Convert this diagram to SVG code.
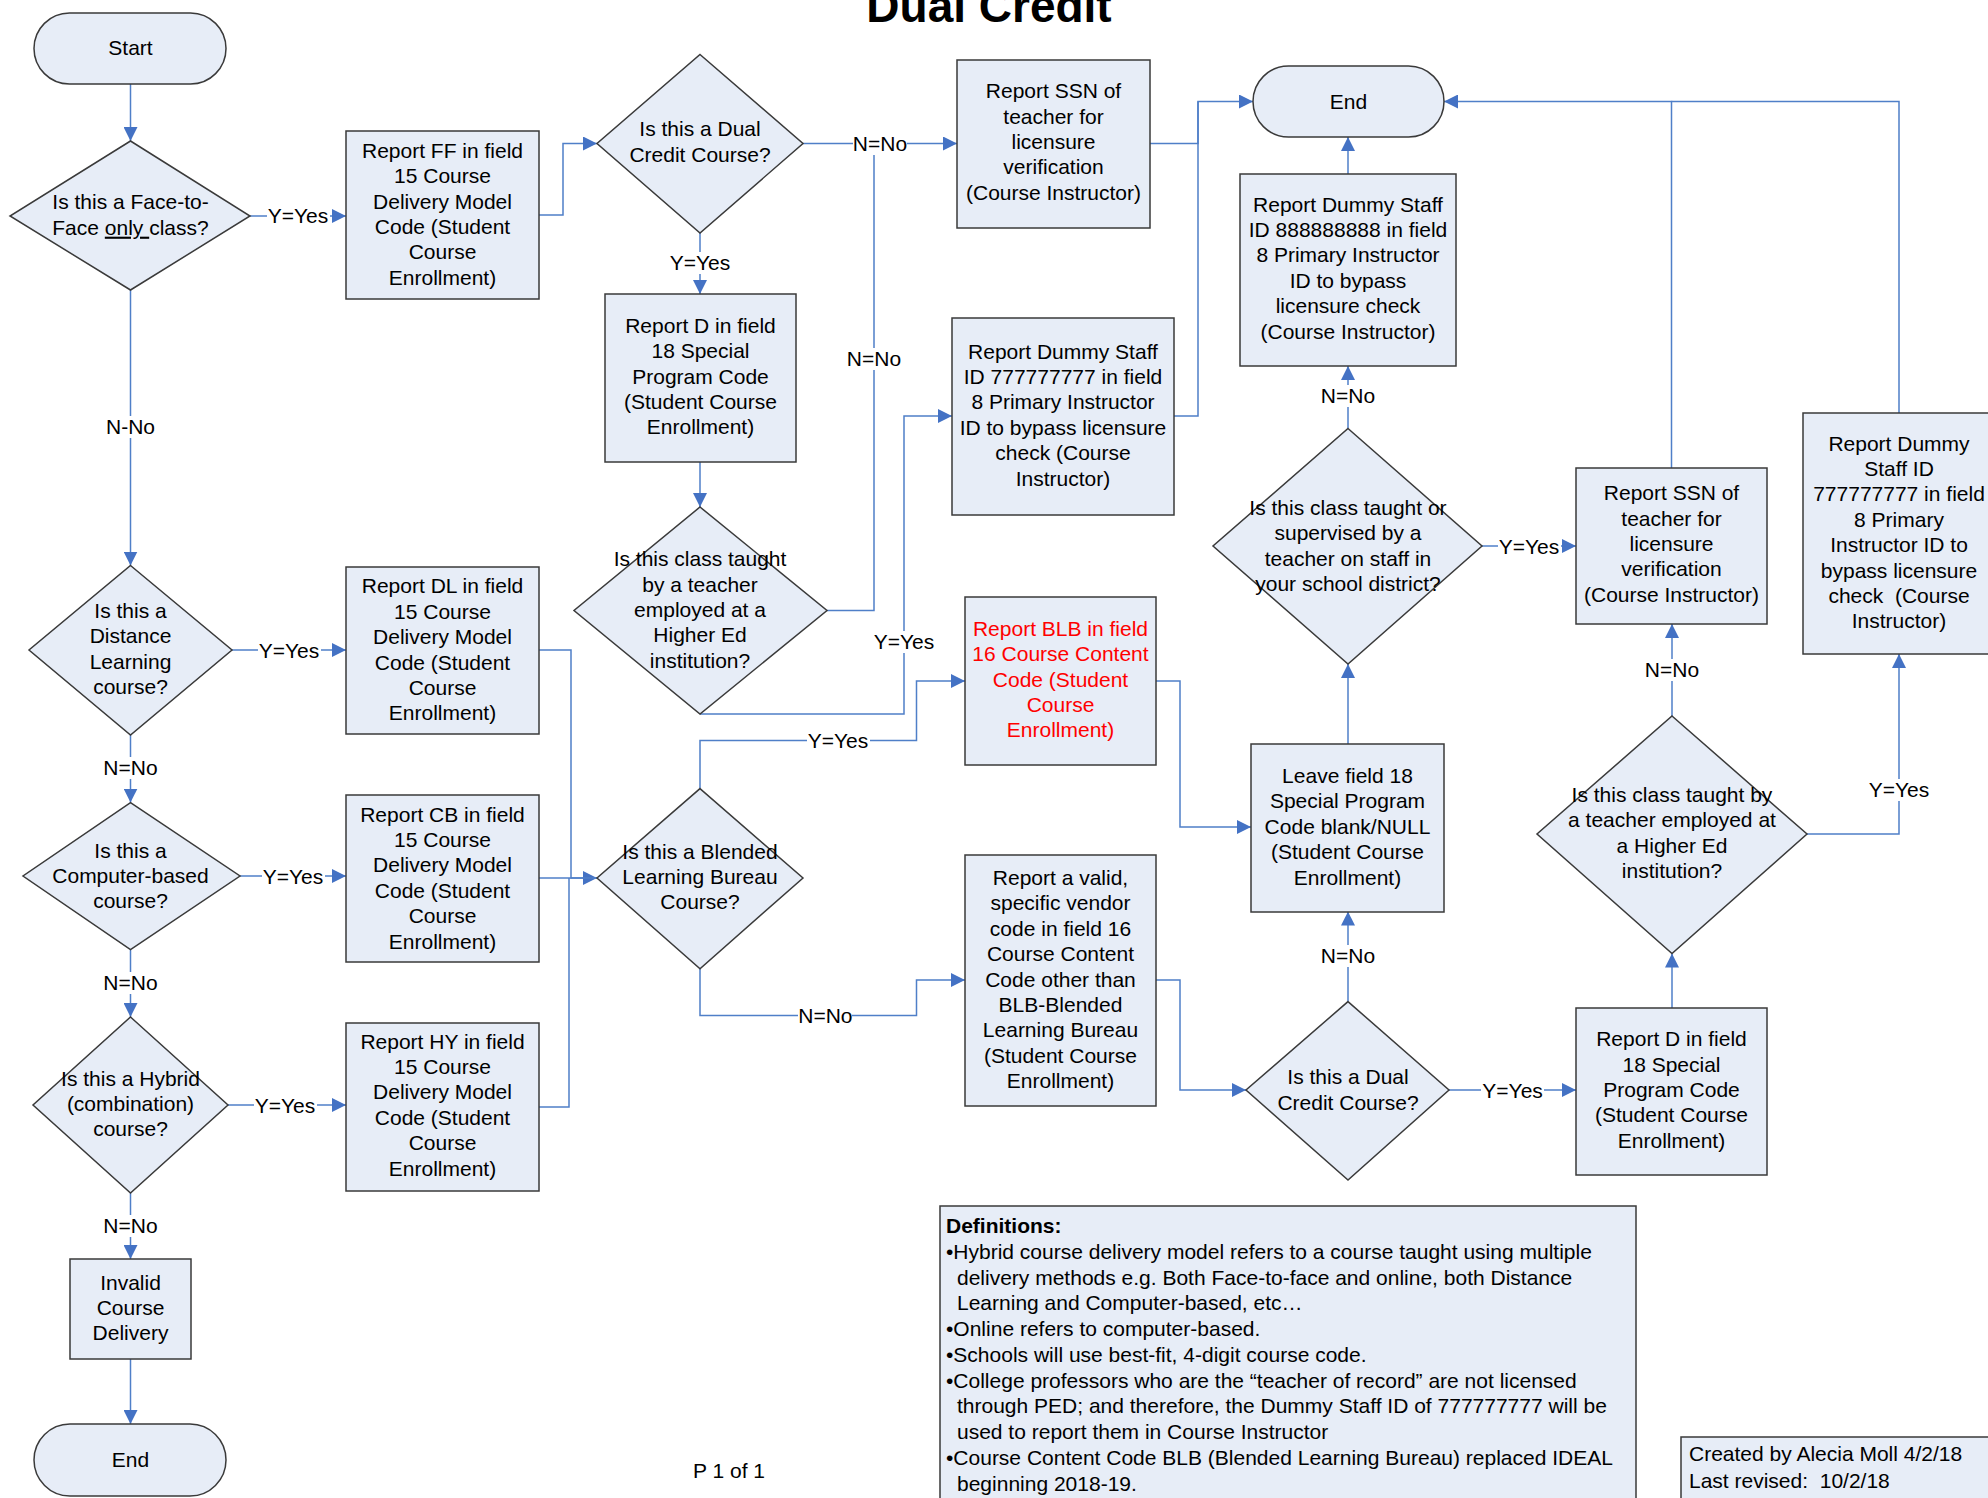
<svg xmlns="http://www.w3.org/2000/svg" width="1988" height="1498" viewBox="0 0 1988 1498">
<style>
.n{fill:#E7EDF7;stroke:#3a3a3a;stroke-width:1.5}
.t{font-family:"Liberation Sans",Arial,sans-serif;font-size:21px;fill:#000;text-anchor:middle}
.red{fill:#FF0000}
.c{fill:none;stroke:#4F7FC8;stroke-width:1.5}
.lb{fill:#fff;stroke:none}
.d{font-family:"Liberation Sans",Arial,sans-serif;font-size:21px;fill:#000}
</style>
<defs>
<marker id="ar" markerUnits="userSpaceOnUse" markerWidth="14" markerHeight="14" refX="14" refY="7" orient="auto">
<path d="M0,0 L14,7 L0,14 z" fill="#4472C4"/>
</marker>
</defs>
<rect width="1988" height="1498" fill="#fff"/>
<text x="989" y="22" font-family="Liberation Sans,Arial,sans-serif" font-size="46" font-weight="bold" text-anchor="middle">Dual Credit</text>

<g id="connectors">
<path class="c" d="M130.5,84 V141" marker-end="url(#ar)"/>
<path class="c" d="M250,216 H346" marker-end="url(#ar)"/>
<path class="c" d="M539,215 H563 V143.5 H597" marker-end="url(#ar)"/>
<path class="c" d="M803,143.5 H957" marker-end="url(#ar)"/>
<path class="c" d="M827,610.5 H874 V143.5"/>
<path class="c" d="M700,233 V294" marker-end="url(#ar)"/>
<path class="c" d="M700,461.5 V507" marker-end="url(#ar)"/>
<path class="c" d="M700,714 H904 V416 H952" marker-end="url(#ar)"/>
<path class="c" d="M1150,143.5 H1198 V101.5 H1253" marker-end="url(#ar)"/>
<path class="c" d="M1174,416 H1198 V101.5"/>
<path class="c" d="M1348,174 V137" marker-end="url(#ar)"/>
<path class="c" d="M1348,428.5 V366" marker-end="url(#ar)"/>
<path class="c" d="M1482,546 H1576" marker-end="url(#ar)"/>
<path class="c" d="M1671.5,468 V101.5 H1444" marker-end="url(#ar)"/>
<path class="c" d="M1899,413 V101.5 H1671.5"/>
<path class="c" d="M1672,716 V624" marker-end="url(#ar)"/>
<path class="c" d="M1807,834 H1899 V654" marker-end="url(#ar)"/>
<path class="c" d="M1672,1008 V953.5" marker-end="url(#ar)"/>
<path class="c" d="M1449,1090 H1576" marker-end="url(#ar)"/>
<path class="c" d="M1348,1001.6 V911.6" marker-end="url(#ar)"/>
<path class="c" d="M1348,744 V664" marker-end="url(#ar)"/>
<path class="c" d="M1156,681 H1180 V827 H1251" marker-end="url(#ar)"/>
<path class="c" d="M1156,980 H1180 V1090 H1246" marker-end="url(#ar)"/>
<path class="c" d="M130.5,290 V565.5" marker-end="url(#ar)"/>
<path class="c" d="M232,650 H346" marker-end="url(#ar)"/>
<path class="c" d="M130.5,735 V802.6" marker-end="url(#ar)"/>
<path class="c" d="M240,876 H346" marker-end="url(#ar)"/>
<path class="c" d="M130.5,949.7 V1017" marker-end="url(#ar)"/>
<path class="c" d="M228,1105 H346" marker-end="url(#ar)"/>
<path class="c" d="M130.5,1193 V1259" marker-end="url(#ar)"/>
<path class="c" d="M130.5,1359 V1424" marker-end="url(#ar)"/>
<path class="c" d="M539,650 H571 V878 H597" marker-end="url(#ar)"/>
<path class="c" d="M539,878 H597"/>
<path class="c" d="M539,1107 H569 V878"/>
<path class="c" d="M700,788.6 V740.5 H916.5 V681 H965" marker-end="url(#ar)"/>
<path class="c" d="M700,968.7 V1015.6 H916.5 V980 H965" marker-end="url(#ar)"/>
<!-- labels -->
<rect class="lb" x="267" y="205" width="63" height="22"/><text class="t" x="298" y="223">Y=Yes</text>
<rect class="lb" x="853" y="133" width="54" height="22"/><text class="t" x="880" y="151">N=No</text>
<rect class="lb" x="847" y="348" width="54" height="22"/><text class="t" x="874" y="366">N=No</text>
<rect class="lb" x="669" y="252" width="63" height="22"/><text class="t" x="700" y="270">Y=Yes</text>
<rect class="lb" x="873" y="631" width="63" height="22"/><text class="t" x="904" y="649">Y=Yes</text>
<rect class="lb" x="1321" y="385" width="54" height="22"/><text class="t" x="1348" y="403">N=No</text>
<rect class="lb" x="1498" y="536" width="63" height="22"/><text class="t" x="1529" y="554">Y=Yes</text>
<rect class="lb" x="1645" y="659" width="54" height="22"/><text class="t" x="1672" y="677">N=No</text>
<rect class="lb" x="1868" y="779" width="63" height="22"/><text class="t" x="1899" y="797">Y=Yes</text>
<rect class="lb" x="1481" y="1080" width="63" height="22"/><text class="t" x="1512.6" y="1098">Y=Yes</text>
<rect class="lb" x="1321" y="945" width="54" height="22"/><text class="t" x="1348" y="963">N=No</text>
<rect class="lb" x="106" y="416" width="49" height="22"/><text class="t" x="130.5" y="434">N-No</text>
<rect class="lb" x="258" y="640" width="63" height="22"/><text class="t" x="289" y="658">Y=Yes</text>
<rect class="lb" x="103" y="757" width="54" height="22"/><text class="t" x="130.5" y="775">N=No</text>
<rect class="lb" x="262" y="866" width="63" height="22"/><text class="t" x="293" y="884">Y=Yes</text>
<rect class="lb" x="103" y="972" width="54" height="22"/><text class="t" x="130.5" y="990">N=No</text>
<rect class="lb" x="254" y="1095" width="63" height="22"/><text class="t" x="285" y="1113">Y=Yes</text>
<rect class="lb" x="103" y="1215" width="54" height="22"/><text class="t" x="130.5" y="1233">N=No</text>
<rect class="lb" x="807" y="730" width="63" height="22"/><text class="t" x="838" y="748">Y=Yes</text>
<rect class="lb" x="798" y="1005" width="54" height="22"/><text class="t" x="825.4" y="1023">N=No</text>
</g>

<g id="start"><rect class="n" x="34" y="13" width="192" height="71" rx="35.5"/><text class="t" x="130.5" y="55">Start</text></g>

<g id="q-face"><polygon class="n" points="130.5,141 250,216 130.5,290 10,216"/>
<text class="t" x="130.5" y="209.3">Is this a Face-to-</text>
<text class="t" x="130.5" y="234.7">Face <tspan style="text-decoration:underline">only </tspan>class?</text></g>

<g id="b-ff"><rect class="n" x="346" y="131" width="193" height="168"/>
<text class="t" x="442.5" y="157.8">Report FF in field</text>
<text class="t" x="442.5" y="183.2">15 Course</text>
<text class="t" x="442.5" y="208.6">Delivery Model</text>
<text class="t" x="442.5" y="234">Code (Student</text>
<text class="t" x="442.5" y="259.4">Course</text>
<text class="t" x="442.5" y="284.8">Enrollment)</text></g>

<g id="q-dual1"><polygon class="n" points="700,54.5 803,143.5 700,233 597,143.5"/>
<text class="t" x="700" y="136.3">Is this a Dual</text>
<text class="t" x="700" y="161.7">Credit Course?</text></g>

<g id="b-ssn1"><rect class="n" x="957" y="60" width="193" height="168"/>
<text class="t" x="1053.5" y="98.2">Report SSN of</text>
<text class="t" x="1053.5" y="123.6">teacher for</text>
<text class="t" x="1053.5" y="149">licensure</text>
<text class="t" x="1053.5" y="174.4">verification</text>
<text class="t" x="1053.5" y="199.8">(Course Instructor)</text></g>

<g id="end-top"><rect class="n" x="1253" y="66" width="191" height="71" rx="35.5"/><text class="t" x="1348.5" y="108.5">End</text></g>

<g id="b-888"><rect class="n" x="1240" y="174" width="216" height="192"/>
<text class="t" x="1348" y="211.5">Report Dummy Staff</text>
<text class="t" x="1348" y="236.9">ID 888888888 in field</text>
<text class="t" x="1348" y="262.3">8 Primary Instructor</text>
<text class="t" x="1348" y="287.7">ID to bypass</text>
<text class="t" x="1348" y="313.1">licensure check</text>
<text class="t" x="1348" y="338.5">(Course Instructor)</text></g>

<g id="b-d18a"><rect class="n" x="605" y="294" width="191" height="168"/>
<text class="t" x="700.5" y="332.8">Report D in field</text>
<text class="t" x="700.5" y="358.2">18 Special</text>
<text class="t" x="700.5" y="383.6">Program Code</text>
<text class="t" x="700.5" y="409">(Student Course</text>
<text class="t" x="700.5" y="434.4">Enrollment)</text></g>

<g id="b-777a"><rect class="n" x="952" y="318" width="222" height="197"/>
<text class="t" x="1063" y="358.5">Report Dummy Staff</text>
<text class="t" x="1063" y="383.9">ID 777777777 in field</text>
<text class="t" x="1063" y="409.3">8 Primary Instructor</text>
<text class="t" x="1063" y="434.7">ID to bypass licensure</text>
<text class="t" x="1063" y="460.1">check (Course</text>
<text class="t" x="1063" y="485.5">Instructor)</text></g>

<g id="q-he1"><polygon class="n" points="700,507 827,610.5 700,714 574,610.5"/>
<text class="t" x="700" y="566.2">Is this class taught</text>
<text class="t" x="700" y="591.6">by a teacher</text>
<text class="t" x="700" y="617">employed at a</text>
<text class="t" x="700" y="642.4">Higher Ed</text>
<text class="t" x="700" y="667.8">institution?</text></g>

<g id="q-dl"><polygon class="n" points="130.5,565.5 232,650 130.5,735 29,650"/>
<text class="t" x="130.5" y="617.9">Is this a</text>
<text class="t" x="130.5" y="643.3">Distance</text>
<text class="t" x="130.5" y="668.7">Learning</text>
<text class="t" x="130.5" y="694.1">course?</text></g>

<g id="b-dl"><rect class="n" x="346" y="567" width="193" height="167"/>
<text class="t" x="442.5" y="593.3">Report DL in field</text>
<text class="t" x="442.5" y="618.7">15 Course</text>
<text class="t" x="442.5" y="644.1">Delivery Model</text>
<text class="t" x="442.5" y="669.5">Code (Student</text>
<text class="t" x="442.5" y="694.9">Course</text>
<text class="t" x="442.5" y="720.3">Enrollment)</text></g>

<g id="b-blb"><rect class="n" x="965" y="597" width="191" height="168"/>
<text class="t red" x="1060.5" y="635.8">Report BLB in field</text>
<text class="t red" x="1060.5" y="661.2">16 Course Content</text>
<text class="t red" x="1060.5" y="686.6">Code (Student</text>
<text class="t red" x="1060.5" y="712">Course</text>
<text class="t red" x="1060.5" y="737.4">Enrollment)</text></g>

<g id="q-cb"><polygon class="n" points="130.5,802.6 240,876 130.5,949.7 23,876"/>
<text class="t" x="130.5" y="857.6">Is this a</text>
<text class="t" x="130.5" y="883">Computer-based</text>
<text class="t" x="130.5" y="908.4">course?</text></g>

<g id="b-cb"><rect class="n" x="346" y="795" width="193" height="167"/>
<text class="t" x="442.5" y="821.5">Report CB in field</text>
<text class="t" x="442.5" y="846.9">15 Course</text>
<text class="t" x="442.5" y="872.3">Delivery Model</text>
<text class="t" x="442.5" y="897.7">Code (Student</text>
<text class="t" x="442.5" y="923.1">Course</text>
<text class="t" x="442.5" y="948.5">Enrollment)</text></g>

<g id="q-blb"><polygon class="n" points="700,788.6 803,878 700,968.7 597,878"/>
<text class="t" x="700" y="858.6">Is this a Blended</text>
<text class="t" x="700" y="884">Learning Bureau</text>
<text class="t" x="700" y="909.4">Course?</text></g>

<g id="b-vendor"><rect class="n" x="965" y="855" width="191" height="251"/>
<text class="t" x="1060.5" y="884.9">Report a valid,</text>
<text class="t" x="1060.5" y="910.3">specific vendor</text>
<text class="t" x="1060.5" y="935.7">code in field 16</text>
<text class="t" x="1060.5" y="961.1">Course Content</text>
<text class="t" x="1060.5" y="986.5">Code other than</text>
<text class="t" x="1060.5" y="1011.9">BLB-Blended</text>
<text class="t" x="1060.5" y="1037.3">Learning Bureau</text>
<text class="t" x="1060.5" y="1062.7">(Student Course</text>
<text class="t" x="1060.5" y="1088.1">Enrollment)</text></g>

<g id="b-leave"><rect class="n" x="1251" y="744" width="193" height="168"/>
<text class="t" x="1347.5" y="782.9">Leave field 18</text>
<text class="t" x="1347.5" y="808.3">Special Program</text>
<text class="t" x="1347.5" y="833.7">Code blank/NULL</text>
<text class="t" x="1347.5" y="859.1">(Student Course</text>
<text class="t" x="1347.5" y="884.5">Enrollment)</text></g>

<g id="q-staff"><polygon class="n" points="1348,428.5 1482,546 1348,664 1213,546"/>
<text class="t" x="1348" y="514.7">Is this class taught or</text>
<text class="t" x="1348" y="540.1">supervised by a</text>
<text class="t" x="1348" y="565.5">teacher on staff in</text>
<text class="t" x="1348" y="590.9">your school district?</text></g>

<g id="b-ssn2"><rect class="n" x="1576" y="468" width="191" height="156"/>
<text class="t" x="1671.5" y="500.2">Report SSN of</text>
<text class="t" x="1671.5" y="525.6">teacher for</text>
<text class="t" x="1671.5" y="551">licensure</text>
<text class="t" x="1671.5" y="576.4">verification</text>
<text class="t" x="1671.5" y="601.8">(Course Instructor)</text></g>

<g id="b-777b"><rect class="n" x="1803" y="413" width="200" height="241"/>
<text class="t" x="1899" y="450.6">Report Dummy</text>
<text class="t" x="1899" y="476">Staff ID</text>
<text class="t" x="1899" y="501.4">777777777 in field</text>
<text class="t" x="1899" y="526.8">8 Primary</text>
<text class="t" x="1899" y="552.2">Instructor ID to</text>
<text class="t" x="1899" y="577.6">bypass licensure</text>
<text class="t" x="1899" y="603" xml:space="preserve">check  (Course</text>
<text class="t" x="1899" y="628.4">Instructor)</text></g>

<g id="q-he2"><polygon class="n" points="1672,716 1807,834 1672,953.5 1537,834"/>
<text class="t" x="1672" y="801.9">Is this class taught by</text>
<text class="t" x="1672" y="827.3">a teacher employed at</text>
<text class="t" x="1672" y="852.7">a Higher Ed</text>
<text class="t" x="1672" y="878.1">institution?</text></g>

<g id="q-dual2"><polygon class="n" points="1348,1001.6 1449,1090 1348,1180 1246,1090"/>
<text class="t" x="1348" y="1084.3">Is this a Dual</text>
<text class="t" x="1348" y="1109.7">Credit Course?</text></g>

<g id="b-d18b"><rect class="n" x="1576" y="1008" width="191" height="167"/>
<text class="t" x="1671.5" y="1046.2">Report D in field</text>
<text class="t" x="1671.5" y="1071.6">18 Special</text>
<text class="t" x="1671.5" y="1097">Program Code</text>
<text class="t" x="1671.5" y="1122.4">(Student Course</text>
<text class="t" x="1671.5" y="1147.8">Enrollment)</text></g>

<g id="q-hy"><polygon class="n" points="130.5,1017 228,1105 130.5,1193 33,1105"/>
<text class="t" x="130.5" y="1085.6">Is this a Hybrid</text>
<text class="t" x="130.5" y="1111">(combination)</text>
<text class="t" x="130.5" y="1136.4">course?</text></g>

<g id="b-hy"><rect class="n" x="346" y="1023" width="193" height="168"/>
<text class="t" x="442.5" y="1048.5">Report HY in field</text>
<text class="t" x="442.5" y="1073.9">15 Course</text>
<text class="t" x="442.5" y="1099.3">Delivery Model</text>
<text class="t" x="442.5" y="1124.7">Code (Student</text>
<text class="t" x="442.5" y="1150.1">Course</text>
<text class="t" x="442.5" y="1175.5">Enrollment)</text></g>

<g id="b-invalid"><rect class="n" x="70" y="1259" width="121" height="100"/>
<text class="t" x="130.5" y="1289.6">Invalid</text>
<text class="t" x="130.5" y="1315">Course</text>
<text class="t" x="130.5" y="1340.4">Delivery</text></g>

<g id="end-bottom"><rect class="n" x="34" y="1424" width="192" height="72" rx="36"/><text class="t" x="130.5" y="1467">End</text></g>

<text class="t" x="729" y="1478">P 1 of 1</text>

<g id="definitions"><rect class="n" x="940" y="1206" width="696" height="300"/>
<text class="d" x="946" y="1233" font-weight="bold">Definitions:</text>
<text class="d" x="946" y="1258.7">•Hybrid course delivery model refers to a course taught using multiple</text>
<text class="d" x="957" y="1284.5">delivery methods e.g. Both Face-to-face and online, both Distance</text>
<text class="d" x="957" y="1310.2">Learning and Computer-based, etc…</text>
<text class="d" x="946" y="1336">•Online refers to computer-based.</text>
<text class="d" x="946" y="1361.7">•Schools will use best-fit, 4-digit course code.</text>
<text class="d" x="946" y="1387.5">•College professors who are the “teacher of record” are not licensed</text>
<text class="d" x="957" y="1413.2">through PED; and therefore, the Dummy Staff ID of 777777777 will be</text>
<text class="d" x="957" y="1439">used to report them in Course Instructor</text>
<text class="d" x="946" y="1464.7">•Course Content Code BLB (Blended Learning Bureau) replaced IDEAL</text>
<text class="d" x="957" y="1490.5">beginning 2018-19.</text></g>

<g id="created"><rect class="n" x="1681" y="1437" width="320" height="70"/>
<text class="d" x="1689" y="1461">Created by Alecia Moll 4/2/18</text>
<text class="d" x="1689" y="1488" xml:space="preserve">Last revised:  10/2/18</text></g>
</svg>
